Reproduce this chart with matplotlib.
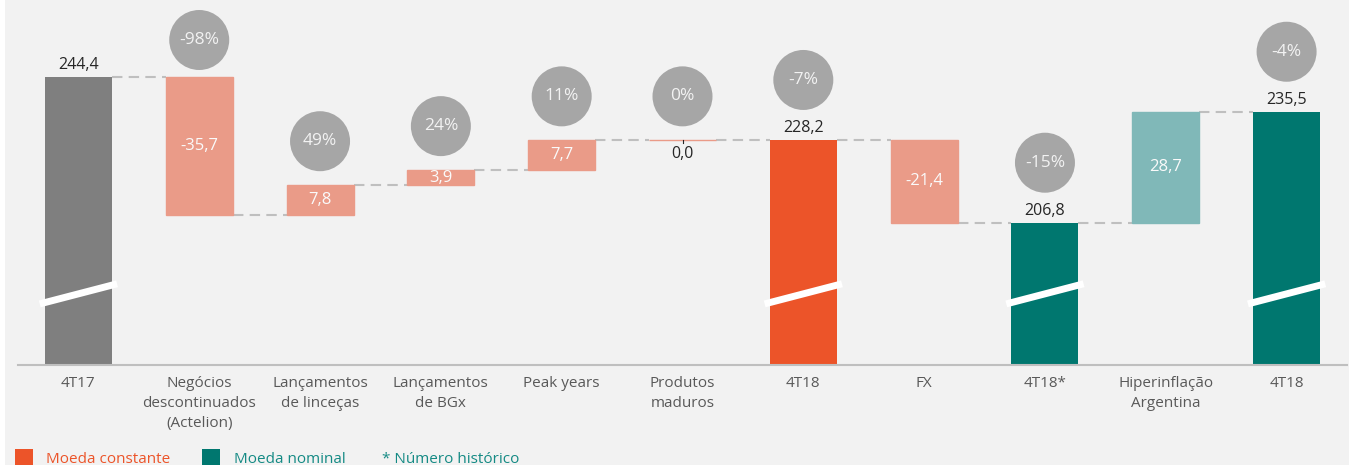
import matplotlib.pyplot as plt
from matplotlib.patches import Rectangle

plt.rcParams['font.family'] = ['Open Sans', 'DejaVu Sans']

# data
categories = ["4T17", "Negócios\ndescontinuados\n(Actelion)", "Lançamentos\nde linceças",
              "Lançamentos\nde BGx", "Peak years", "Produtos\nmaduros", "4T18", "FX",
              "4T18*", "Hiperinflação\nArgentina", "4T18"]
values = [244.4, -35.7, 7.8, 3.9, 7.7, 0.0, 228.2, -21.4, 206.8, 28.7, 235.5]
is_total = [True, False, False, False, False, False, True, False, True, False, True]
pct_labels = [None, "-98%", "49%", "24%", "11%", "0%", "-7%", None, "-15%", None, "-4%"]

# styling
PINK = "#EA9B88"
ORANGE = "#EC5429"
TEAL = "#00776F"
LTEAL = "#80B8B8"
GREY = "#7F7F7F"
BG = "#F2F2F2"
bar_colors = [GREY, PINK, PINK, PINK, PINK, PINK, ORANGE, PINK, TEAL, LTEAL, TEAL]

YMIN, YTOP = 170.0, 264.4
W = 0.555
AX_H_PX = 365
PX = AX_H_PX / (YTOP - YMIN)   # pixels per data unit


def fmt(v):
    return f"{v:.1f}".replace(".", ",")


fig = plt.figure(figsize=(13.49, 4.65), dpi=100, facecolor=BG)
fig.patches.append(Rectangle((0, 0), 5 / 1349, 1, transform=fig.transFigure,
                             facecolor="white", edgecolor="none", zorder=-1))
ax = fig.add_axes([18 / 1349, 100 / 465, 1329 / 1349, 365 / 465])
ax.set_facecolor(BG)
ax.set_xlim(-0.5, 10.5)
ax.set_ylim(YMIN, YTOP)

level = 0.0
tops = []
for i, (v, tot) in enumerate(zip(values, is_total)):
    if tot:
        ax.bar(i, v - YMIN, bottom=YMIN, width=W, color=bar_colors[i], zorder=2)
        level = v
        ax.text(i, v + 4 / PX, fmt(v), ha="center", va="bottom", fontsize=11.5,
                color="#262626")
        # axis break mark
        ax.plot([i - 0.32, i + 0.32], [YMIN + 15.8, YMIN + 21.0], color="white",
                lw=5, solid_capstyle="butt", zorder=3)
        top = v
    else:
        ax.bar(i, v, bottom=level, width=W, color=bar_colors[i],
               edgecolor=bar_colors[i], lw=1, zorder=2)
        mid = level + v / 2
        if abs(v) < 1:
            ax.text(i, level - 6 / PX, fmt(v), ha="center", va="top", fontsize=11.5,
                    color="#262626")
            ax.plot([i, i], [level, level - 3 / PX], color="#262626", lw=0.8, zorder=3)
        else:
            ax.text(i, mid, fmt(v), ha="center", va="center", fontsize=12,
                    color="#FAFAFA")
        top = max(level, level + v)
        level = level + v
    tops.append(top)
    # connector to next bar
    if i < len(values) - 1:
        ax.plot([i + W / 2, i + 1 - W / 2], [level, level], color="#BFBFBF", lw=1.5,
                ls=(0, (5, 3)), zorder=1)

# percentage bubbles
for i, lab in enumerate(pct_labels):
    if lab is None:
        continue
    off = 60 if is_total[i] else 44
    yc = tops[i] + off / PX
    yc = min(yc, YTOP - 40 / PX)
    ax.scatter(i, yc, s=1866, color="#A6A6A6", edgecolors="none", zorder=4)
    ax.text(i, yc, lab, ha="center", va="center", fontsize=12.5, color="#F2F2F2",
            zorder=5)

for s in ["top", "left", "right"]:
    ax.spines[s].set_visible(False)
ax.spines["bottom"].set_color("#BFBFBF")
ax.spines["bottom"].set_linewidth(1.5)
ax.set_yticks([])
ax.set_xticks(range(len(categories)))
ax.set_xticklabels(categories, fontsize=11, color="#595959", linespacing=1.45)
ax.tick_params(axis="x", length=0, pad=8)

# legend along the bottom edge
fig.patches.append(Rectangle((15 / 1349, -2 / 465), 18 / 1349, 18 / 465,
                             transform=fig.transFigure, facecolor=ORANGE, edgecolor="none"))
fig.patches.append(Rectangle((202 / 1349, -2 / 465), 18 / 1349, 18 / 465,
                             transform=fig.transFigure, facecolor=TEAL, edgecolor="none"))
fig.text(46 / 1349, 2 / 465, "Moeda constante", fontsize=11, color=ORANGE,
         va="baseline")
fig.text(234 / 1349, 2 / 465, "Moeda nominal", fontsize=11, color="#148A84",
         va="baseline")
fig.text(382 / 1349, 2 / 465, "* Número histórico", fontsize=11, color="#148A84",
         va="baseline")

fig.savefig("out.png", dpi=100, facecolor=BG)
